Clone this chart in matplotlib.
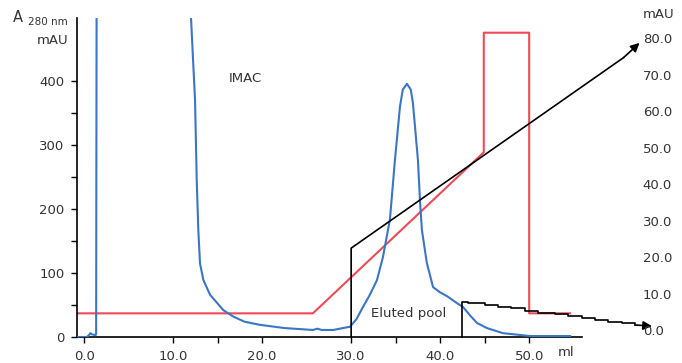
import matplotlib.pyplot as plt
from matplotlib.ticker import FixedLocator

# UV trace (A280, mAU)
uv_ml = [-0.8, 0.3, 0.55, 0.7, 0.9, 1.3, 1.35, 1.45, 11.9, 12.01, 12.24, 12.46, 12.65,
         12.83, 13.02, 13.4, 14.15, 15.64, 16.76, 18.0, 19.76, 22.5, 25.7, 26.2, 26.7,
         28.0, 29.08, 29.87, 30.6, 31.33, 32.1, 32.9, 33.57, 34.13, 34.35, 34.92, 35.48,
         35.8, 36.27, 36.7, 36.94, 37.5, 37.73, 37.95, 38.5, 39.2, 39.97, 40.76, 41.88,
         42.56, 43.34, 44.13, 45.25, 47.05, 50.1, 54.6]
uv_mau = [0, 0, 3, 6, 4, 3, 6, 1000, 1000, 499, 433, 371, 246,
          167, 115, 89, 66, 42, 32, 24, 19, 14, 11, 13, 11,
          11, 14, 16, 28, 47, 66, 89, 125, 167, 183, 277, 360,
          387, 396, 387, 366, 277, 214, 167, 116, 78, 70, 64, 53,
          47, 34, 22, 14, 6, 1.5, 1.5]

# gradient trace (red)
grad_ml = [-0.8, 25.7, 44.9, 44.9, 50.0, 50.0, 54.6]
grad_mau = [37, 37, 289, 476, 476, 37, 37]

# eluted pool markers (black)
pool1_ml = [30.0, 30.0, 60.6]
pool1_mau = [0, 139, 437]
pool1_tip = (62.4, 460)
pool2_ml = [42.4, 42.4, 43.1, 45.0, 46.5, 48.0, 49.5, 51.0, 52.9, 54.4, 55.9, 57.4,
            58.9, 60.4, 61.9]
pool2_mau = [0, 55, 53.7, 50, 47.4, 44.9, 41.2, 38, 36, 32.9, 29.3, 26.6,
             23.9, 21.4, 18.8]
pool2_tip = (63.8, 17)

xticks = [0, 10, 20, 30, 40, 50]
xlabels = ['0.0', '10.0', '20.0', '30.0', '40.0', '50.0']
yticks = [0, 100, 200, 300, 400]
rticks = [0, 10, 20, 30, 40, 50, 60, 70, 80]
rlabels = ['0.0', '10.0', '20.0', '30.0', '40.0', '50.0', '60.0', '70.0', '80.0']

txt = '#333333'
fs = 9.5

fig = plt.figure(figsize=(6.82, 3.63), dpi=100)
ax = fig.add_axes([77 / 682, 26 / 363, (581.7 - 77) / 682, (337 - 18) / 363])

ax.plot(grad_ml, grad_mau, color='#ef4a55', lw=1.5, zorder=2)
ax.plot(uv_ml, uv_mau, color='#3b76c4', lw=1.5, zorder=3)

ax.plot(pool1_ml, pool1_mau, color='black', lw=1.2, clip_on=False, zorder=4)
ax.plot(pool2_ml, pool2_mau, color='black', lw=1.2, drawstyle='steps-post',
        clip_on=False, zorder=4)
for xs, ys, tip in [(pool1_ml, pool1_mau, pool1_tip), (pool2_ml, pool2_mau, pool2_tip)]:
    ax.annotate('', xy=tip, xytext=(xs[-1], ys[-1]), annotation_clip=False,
                arrowprops=dict(arrowstyle='-|>', mutation_scale=13, color='black',
                                lw=1.2, shrinkA=0, shrinkB=0))

ax.set_xlim(-0.8, 55.9)
ax.set_ylim(0, 499)
ax.set_xticks(xticks)
ax.set_xticklabels(xlabels)
ax.set_yticks(yticks)
ax.xaxis.set_minor_locator(FixedLocator([15, 35, 45]))
ax.yaxis.set_minor_locator(FixedLocator([50, 150, 250, 350]))
ax.tick_params(which='both', length=4, width=1, color='black', labelsize=fs,
               labelcolor=txt, pad=5)
for s in ['top', 'right']:
    ax.spines[s].set_visible(False)
for s in ['left', 'bottom']:
    ax.spines[s].set_linewidth(1.2)

ax.text(18.1, 405, 'IMAC', fontsize=fs, color=txt, ha='center', va='center')
ax.text(36.4, 37, 'Eluted pool', fontsize=fs, color=txt, ha='center', va='center')
ax.text(54.1, -25, 'ml', fontsize=fs, color=txt, ha='center', va='center', clip_on=False)

ax2 = ax.twinx()
ax2.set_ylim(-1.9, 85.5)
ax2.set_yticks(rticks)
ax2.set_yticklabels(rlabels)
ax2.tick_params(length=0, labelsize=fs, labelcolor=txt, pad=44)
for s in ax2.spines.values():
    s.set_visible(False)

fig.text(13 / 682, 1 - 17 / 363, 'A', fontsize=10.5, color=txt, va='center', ha='left')
fig.text(68 / 682, 1 - 22 / 363, '280 nm', fontsize=7.5, color=txt, va='center', ha='right')
fig.text(68 / 682, 1 - 40 / 363, 'mAU', fontsize=fs, color=txt, va='center', ha='right')
fig.text(643 / 682, 1 - 15 / 363, 'mAU', fontsize=fs, color=txt, va='center', ha='left')

fig.savefig('out.png', dpi=100)
